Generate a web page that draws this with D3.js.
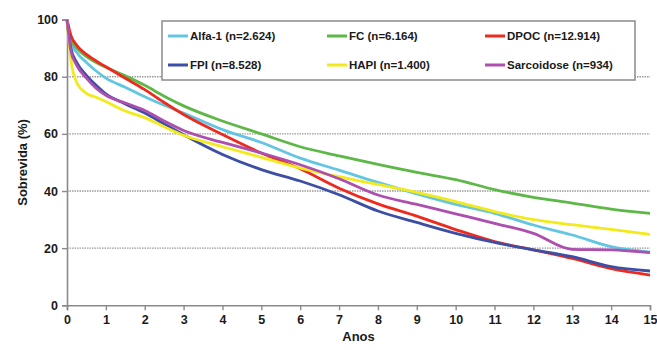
<!DOCTYPE html>
<html>
<head>
<meta charset="utf-8">
<script src="https://cdn.jsdelivr.net/npm/d3@7"></script>
<style>
  html, body { margin: 0; padding: 0; background: #fff; }
  svg { display: block; font-family: 'Liberation Sans', Arial, sans-serif; }
</style>
</head>
<body>
<svg id="chart" width="657" height="350"></svg>
<script>
// years of follow-up (x values shared by every series)
const years = [0, 0.1, 0.25, 0.5, 0.75, 1, 1.5, 2, 2.5, 3, 4, 5, 6, 7, 8, 9, 10, 11, 12, 13, 14, 15]

// survival (%) per series
const alfa1      = [100, 92, 88.5, 85, 82, 79.5, 76.3, 73, 70, 67.3, 61.5, 57, 51.5, 47.3, 43, 39, 35.3, 32.2, 28.1, 24.6, 20.5, 18.6]
const fc         = [100, 93, 90, 87, 85, 83.3, 80.3, 77, 73.2, 69.8, 64.5, 60, 55.5, 52.3, 49.3, 46.5, 44, 40.5, 37.8, 35.8, 33.7, 32.2]
const dpoc       = [100, 94.5, 91, 87.8, 85.5, 83.5, 79.5, 75.5, 71, 66.8, 59.8, 53.3, 47.8, 41, 35.5, 31.2, 26.5, 22.3, 19.4, 16.4, 12.8, 10.6]
const fpi        = [100, 90, 85, 80.5, 77, 74, 70.5, 67.3, 63.5, 59.7, 52.8, 47.5, 43.5, 38.7, 33, 29, 25.2, 22, 19.4, 17, 13.5, 12]
const hapi       = [100, 86, 78, 74.2, 72.8, 71.3, 68, 65.7, 62.5, 59.5, 55.5, 51.8, 48, 45, 42.3, 39.5, 36.3, 32.8, 30, 28.2, 26.6, 24.8]
const sarcoidose = [100, 89, 84, 79.5, 76, 73.5, 70.8, 68.2, 64.5, 61.2, 57, 53.3, 49.2, 44.3, 38.6, 35.3, 32, 28.7, 25.2, 19.6, 19.4, 18.4]

const seriesNames = ['Alfa-1 (n=2.624)', 'FC (n=6.164)', 'DPOC (n=12.914)', 'FPI (n=8.528)', 'HAPI (n=1.400)', 'Sarcoidose (n=934)']
const seriesValues = [alfa1, fc, dpoc, fpi, hapi, sarcoidose]
const seriesColors = ['#62c6e2', '#5db847', '#ee2a1e', '#3c4ea6', '#f2ea1c', '#ad4fae']

const xTicks = d3.range(0, 16)
const yTicks = [0, 20, 40, 60, 80, 100]
const gridValues = [20, 40, 60, 80]

const svg = d3.select('#chart')
const x = d3.scaleLinear().domain([0, 15]).range([67, 650])
const y = d3.scaleLinear().domain([0, 100]).range([305.3, 19.6])

// Dotted gridlines
svg.append('g')
  .selectAll('line')
  .data(gridValues)
  .join('line')
  .attr('x1', x(0))
  .attr('x2', x(15))
  .attr('y1', d => y(d))
  .attr('y2', d => y(d))
  .attr('stroke', '#9a9a9a')
  .attr('stroke-width', 1.3)
  .attr('stroke-dasharray', '1.5,1')

// Axes
const xAxis = svg.append('g')
  .attr('transform', `translate(0,${y(0)})`)
  .call(d3.axisBottom(x).tickValues(xTicks).tickSize(5).tickPadding(5).tickFormat(d3.format('d')))
const yAxis = svg.append('g')
  .attr('transform', `translate(${x(0)},0)`)
  .call(d3.axisLeft(y).tickValues(yTicks).tickSize(5).tickPadding(4))

;[xAxis, yAxis].forEach(a => {
  a.select('.domain').attr('stroke', '#8a8a8a').attr('stroke-width', 1.6)
  a.selectAll('.tick line').attr('stroke', '#8a8a8a').attr('stroke-width', 1.4)
  a.selectAll('.tick text')
    .attr('fill', '#1a1a1a')
    .style('font-size', '12.5px')
    .style('font-weight', 'bold')
    .style('font-family', "'Liberation Sans', Arial, sans-serif")
})

// Axis titles
svg.append('text')
  .attr('x', x(7.5))
  .attr('y', 341)
  .attr('text-anchor', 'middle')
  .style('font-size', '13px')
  .style('font-weight', 'bold')
  .attr('fill', '#1a1a1a')
  .text('Anos')

svg.append('text')
  .attr('transform', `translate(27,${y(50)}) rotate(-90)`)
  .attr('text-anchor', 'middle')
  .style('font-size', '13px')
  .style('font-weight', 'bold')
  .attr('fill', '#1a1a1a')
  .text('Sobrevida (%)')

// Survival curves
const line = d3.line()
  .x((d, i) => x(years[i]))
  .y(d => y(d))
  .curve(d3.curveMonotoneX)

svg.append('g')
  .selectAll('path')
  .data(seriesValues)
  .join('path')
  .attr('fill', 'none')
  .attr('stroke', (d, i) => seriesColors[i])
  .attr('stroke-width', 2.8)
  .attr('stroke-linejoin', 'round')
  .attr('d', d => line(d))

// Legend
const legend = svg.append('g')
legend.append('rect')
  .attr('x', 162)
  .attr('y', 21)
  .attr('width', 473)
  .attr('height', 59)
  .attr('fill', '#fff')
  .attr('stroke', '#8a8a8a')
  .attr('stroke-width', 1.5)

const colX = [168, 327, 485]
const rowY = [36, 65]

const items = legend.selectAll('g.item')
  .data(seriesNames)
  .join('g')
  .attr('class', 'item')
  .attr('transform', (d, i) => `translate(${colX[i % 3]},${rowY[Math.floor(i / 3)]})`)

items.append('line')
  .attr('x1', 0)
  .attr('x2', 20)
  .attr('stroke', (d, i) => seriesColors[i])
  .attr('stroke-width', 3)

items.append('text')
  .attr('x', 22)
  .attr('dy', '0.36em')
  .style('font-size', '11.5px')
  .style('font-weight', 'bold')
  .attr('fill', '#1a1a1a')
  .text(d => d)
</script>
</body>
</html>
